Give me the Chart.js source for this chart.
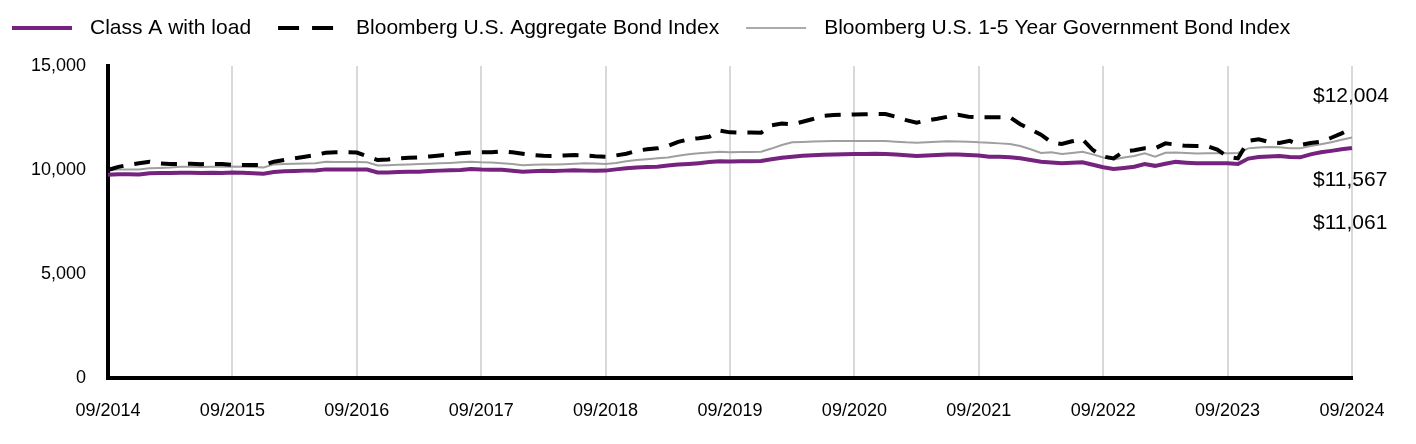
<!DOCTYPE html>
<html>
<head>
<meta charset="utf-8">
<style>
  body { margin: 0; background: #fff; }
  #wrap { width: 1416px; height: 444px; }
</style>
<script src="https://cdn.jsdelivr.net/npm/chart.js@4.4.1/dist/chart.umd.min.js"></script>
</head>
<body>
<div id="wrap"><canvas id="growthChart" width="1416" height="444"></canvas></div>
<script>
// growth of $10,000, monthly from 09/2014 to 09/2024
const startYear = 2014;
const startMonth = 9;
const monthCount = 121;

const seriesNames = ['Class A with load', 'Bloomberg U.S. Aggregate Bond Index', 'Bloomberg U.S. 1-5 Year Government Bond Index'];
const endLabels = ['$12,004', '$11,567', '$11,061'];
const yTicks = [0, 5000, 10000, 15000];

const classA = [
  9775, 9790, 9800, 9780, 9840, 9850, 9860, 9870, 9870, 9860, 9870, 9860,
  9880, 9870, 9840, 9820, 9900, 9940, 9950, 9970, 9980, 10030, 10030, 10020,
  10030, 10020, 9880, 9880, 9900, 9910, 9920, 9950, 9970, 9990, 10000, 10050,
  10020, 10010, 10010, 9960, 9920, 9940, 9960, 9950, 9970, 9990, 9970, 9960,
  9970, 10030, 10080, 10120, 10140, 10160, 10220, 10260, 10290, 10330, 10380, 10420,
  10410, 10420, 10420, 10430, 10520, 10590, 10640, 10680, 10710, 10730, 10750, 10760,
  10770, 10770, 10780, 10770, 10750, 10710, 10670, 10700, 10720, 10740, 10750, 10720,
  10700, 10640, 10640, 10610, 10560, 10480, 10400, 10360, 10320, 10350, 10370, 10250,
  10130, 10050, 10100, 10160, 10290, 10200, 10300, 10390, 10350, 10320, 10330, 10330,
  10320, 10290, 10550, 10620, 10650, 10670, 10620, 10610, 10750, 10850, 10920, 11000,
  11061
];

const aggregate = [
  10000, 10150, 10250, 10320, 10400, 10320, 10290, 10290, 10300, 10280, 10290, 10290,
  10250, 10240, 10240, 10230, 10400, 10480, 10560, 10640, 10720, 10830, 10850, 10850,
  10840, 10660, 10480, 10500, 10560, 10590, 10610, 10650, 10700, 10740, 10800, 10840,
  10850, 10850, 10900, 10850, 10780, 10720, 10680, 10670, 10700, 10720, 10700, 10660,
  10640, 10700, 10780, 10920, 11000, 11040, 11150, 11350, 11475, 11530, 11600, 11890,
  11810, 11800, 11800, 11795, 12150, 12240, 12200, 12320, 12450, 12600, 12640, 12660,
  12670, 12680, 12690, 12690, 12560, 12400, 12275, 12380, 12460, 12560, 12660, 12560,
  12535, 12535, 12540, 12535, 12200, 11950, 11700, 11330, 11250, 11380, 11475, 10960,
  10650, 10560, 10900, 10950, 11040, 11040, 11280, 11220, 11160, 11155, 11150, 10980,
  10640, 10560, 11400, 11475, 11350, 11300, 11400, 11200, 11300, 11360, 11550, 11760,
  12004
];

const govt15 = [
  10000, 10020, 10030, 10030, 10080, 10100, 10120, 10160, 10160, 10150, 10160, 10160,
  10170, 10160, 10150, 10120, 10270, 10290, 10300, 10310, 10330, 10400, 10390, 10380,
  10380, 10370, 10220, 10230, 10250, 10270, 10290, 10300, 10320, 10340, 10370, 10400,
  10370, 10360, 10330, 10290, 10230, 10250, 10270, 10260, 10280, 10300, 10320, 10310,
  10290, 10340, 10420, 10480, 10520, 10560, 10600, 10690, 10760, 10800, 10840, 10880,
  10850, 10860, 10870, 10880, 11030, 11200, 11330, 11350, 11370, 11380, 11390, 11390,
  11395, 11390, 11395, 11390, 11360, 11330, 11315, 11340, 11360, 11380, 11370, 11360,
  11330, 11315, 11280, 11250, 11150, 11000, 10820, 10850, 10770, 10820, 10880, 10750,
  10600, 10510, 10600, 10670, 10800, 10640, 10830, 10840, 10820, 10790, 10800, 10810,
  10800, 10820, 11040, 11080, 11100, 11090, 11050, 11040, 11150, 11240, 11330, 11450,
  11567
];

const labels = [];
for (let i = 0; i < monthCount; i++) {
  const m = (startMonth - 1 + i) % 12 + 1;
  const y = startYear + Math.floor((startMonth - 1 + i) / 12);
  labels.push(String(m).padStart(2, '0') + '/' + y);
}

const FONT = '"Liberation Sans", Arial, sans-serif';

// legend drawn as line samples across the top
const lineLegend = {
  id: 'lineLegend',
  afterDraw(chart) {
    const ctx = chart.ctx;
    ctx.save();
    ctx.font = '21px ' + FONT;
    ctx.textBaseline = 'middle';
    ctx.fillStyle = '#000';
    let x = 12;
    const y = 28;
    chart.data.datasets.forEach(ds => {
      ctx.beginPath();
      ctx.strokeStyle = ds.legendColor || ds.borderColor;
      ctx.lineWidth = ds.legendWidth || ds.borderWidth;
      ctx.setLineDash(ds.legendDash || []);
      ctx.moveTo(x, y);
      ctx.lineTo(x + 60, y);
      ctx.stroke();
      ctx.setLineDash([]);
      ctx.fillText(ds.label, x + 78, y);
      x += 78 + ctx.measureText(ds.label).width + 27;
    });
    ctx.restore();
  }
};

// ending values printed at the right edge
const endValues = {
  id: 'endValues',
  afterDraw(chart) {
    const ctx = chart.ctx;
    const area = chart.chartArea;
    const offsets = [30, 114, 157];
    ctx.save();
    ctx.font = '21px ' + FONT;
    ctx.fillStyle = '#000';
    ctx.textBaseline = 'middle';
    ctx.textAlign = 'left';
    endLabels.forEach((t, i) => {
      ctx.fillText(t, area.right - 39, area.top + offsets[i]);
    });
    ctx.restore();
  }
};

const ctx = document.getElementById('growthChart').getContext('2d');
new Chart(ctx, {
  type: 'line',
  data: {
    labels: labels,
    datasets: [
      {
        label: seriesNames[0],
        data: classA,
        borderColor: '#76237f',
        borderWidth: 4,
        pointRadius: 0,
        tension: 0,
        order: 1
      },
      {
        label: seriesNames[1],
        data: aggregate,
        borderColor: '#000000',
        borderWidth: 4,
        borderDash: [16, 11],
        legendDash: [21, 13],
        pointRadius: 0,
        tension: 0,
        order: 2
      },
      {
        label: seriesNames[2],
        data: govt15,
        borderColor: '#9f9f9f',
        legendColor: '#aaaaaa',
        borderWidth: 2,
        pointRadius: 0,
        tension: 0,
        order: 3
      }
    ]
  },
  options: {
    responsive: false,
    animation: false,
    layout: { padding: { top: 66, right: 64, bottom: 0, left: 0 } },
    plugins: {
      legend: { display: false },
      tooltip: { enabled: false }
    },
    scales: {
      x: {
        grid: { color: '#d9d9d9', lineWidth: 2, drawTicks: false },
        border: { color: '#000', width: 4 },
        afterFit(scale) { scale.height = 66; },
        ticks: {
          autoSkip: false,
          maxRotation: 0,
          padding: 22,
          color: '#000',
          font: { family: FONT, size: 18 },
          callback(value, index) {
            return index % 12 === 0 ? labels[index] : null;
          }
        }
      },
      y: {
        min: 0,
        max: 15000,
        grid: { display: false, drawTicks: false },
        border: { color: '#000', width: 4 },
        afterFit(scale) { scale.width = 108; },
        afterBuildTicks(scale) { scale.ticks = yTicks.map(v => ({ value: v })); },
        ticks: {
          padding: 22,
          color: '#000',
          font: { family: FONT, size: 18 },
          callback(value) { return value.toLocaleString('en-US'); }
        }
      }
    }
  },
  plugins: [lineLegend, endValues]
});
</script>
</body>
</html>
